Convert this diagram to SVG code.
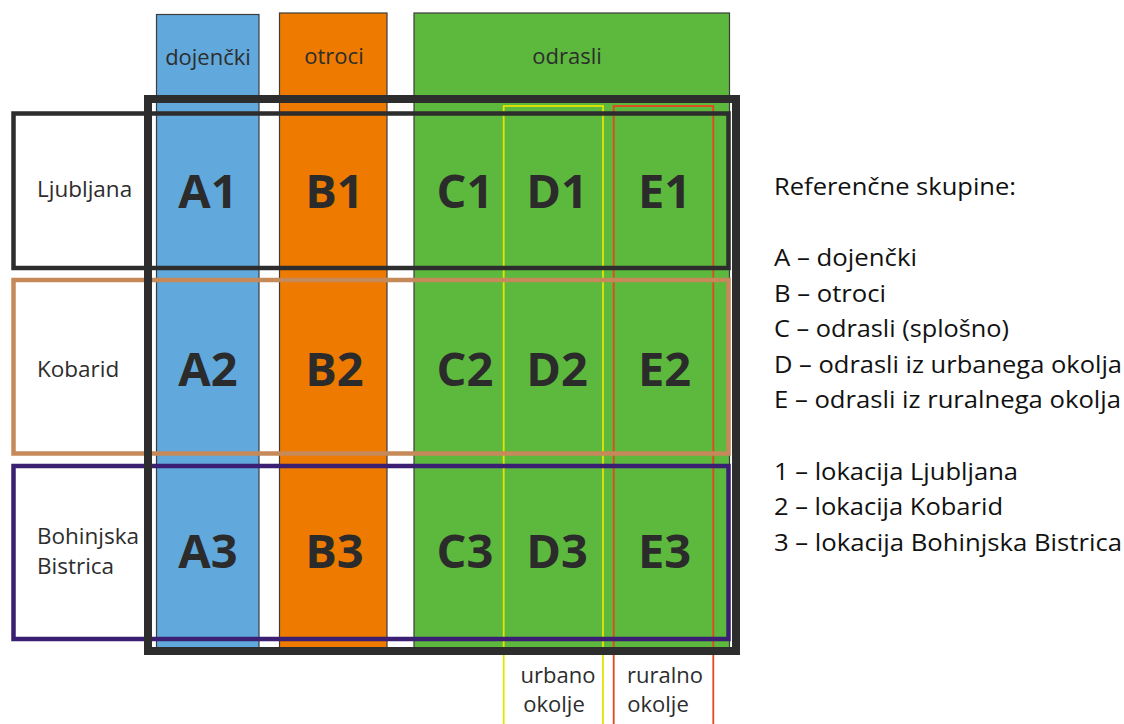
<svg xmlns="http://www.w3.org/2000/svg" width="1124" height="724" viewBox="0 0 1124 724">
<style>
.col{stroke:#3c3c3c;stroke-width:1.2}
.hdr{font-family:"Open Sans","Liberation Sans",sans-serif;font-size:22px;fill:#2d2d2d;text-anchor:middle}
.lbl{font-family:"Open Sans","Liberation Sans",sans-serif;font-size:22.5px;fill:#2d2d2d}
.cell{font-family:"Open Sans","Liberation Sans",sans-serif;font-size:47px;font-weight:bold;fill:#2b2b2b;text-anchor:middle}
.leg{font-family:"Open Sans","Liberation Sans",sans-serif;font-size:23.5px;fill:#111}
.row{fill:none;stroke-width:4.5}
</style>
<rect width="1124" height="724" fill="#ffffff"/>
<g id="col-A">
<rect class="col" x="156.5" y="14.5" width="102.5" height="634" fill="#61a9dc"/>
<text class="hdr" x="208" y="65">dojenčki</text>
</g>
<g id="col-B">
<rect class="col" x="279.5" y="13" width="107.5" height="635.5" fill="#ee7b00"/>
<text class="hdr" x="334" y="64">otroci</text>
</g>
<g id="col-C">
<rect class="col" x="414" y="13" width="315.5" height="635.5" fill="#5db93e"/>
<text class="hdr" x="567" y="64">odrasli</text>
</g>
<g id="env-lines">
<rect id="urbano" x="503.7" y="106" width="99.3" height="640" fill="none" stroke="#e4e400" stroke-width="1.8"/>
<rect id="ruralno" x="613.7" y="106" width="99.6" height="640" fill="none" stroke="#e5461c" stroke-width="1.8"/>
</g>
<g id="row-1">
<rect class="row" x="13.5" y="113.5" width="715" height="154.5" stroke="#2d2d2d"/>
<text class="lbl" x="37" y="197">Ljubljana</text>
</g>
<g id="row-2">
<rect class="row" x="13.5" y="280" width="715" height="173.5" stroke="#c6895a"/>
<text class="lbl" x="37" y="377">Kobarid</text>
</g>
<g id="row-3">
<rect class="row" x="13.5" y="466" width="715" height="173" stroke="#3b1f72"/>
<text class="lbl" x="37" y="544">Bohinjska</text>
<text class="lbl" x="37" y="574">Bistrica</text>
</g>
<g id="frame">
<rect x="148" y="99" width="588" height="552" fill="none" stroke="#2d2d2d" stroke-width="8"/>
</g>
<g id="cells">
<text class="cell" x="208" y="208">A1</text>
<text class="cell" x="334.5" y="208">B1</text>
<text class="cell" x="465" y="208">C1</text>
<text class="cell" x="557" y="208">D1</text>
<text class="cell" x="664.5" y="208">E1</text>
<text class="cell" x="208" y="386">A2</text>
<text class="cell" x="334.5" y="386">B2</text>
<text class="cell" x="465" y="386">C2</text>
<text class="cell" x="557" y="386">D2</text>
<text class="cell" x="664.5" y="386">E2</text>
<text class="cell" x="208" y="568">A3</text>
<text class="cell" x="334.5" y="568">B3</text>
<text class="cell" x="465" y="568">C3</text>
<text class="cell" x="557" y="568">D3</text>
<text class="cell" x="664.5" y="568">E3</text>
</g>
<g id="env-labels">
<text class="hdr" x="558" y="683">urbano</text>
<text class="hdr" x="554" y="712">okolje</text>
<text class="hdr" x="665" y="683">ruralno</text>
<text class="hdr" x="658" y="712">okolje</text>
</g>
<g id="legend">
<text class="leg" x="774" y="195" textLength="242" lengthAdjust="spacingAndGlyphs">Referenčne skupine:</text>
<text class="leg" x="774" y="266" textLength="143" lengthAdjust="spacingAndGlyphs">A – dojenčki</text>
<text class="leg" x="774" y="301.5" textLength="112" lengthAdjust="spacingAndGlyphs">B – otroci</text>
<text class="leg" x="774" y="337" textLength="235" lengthAdjust="spacingAndGlyphs">C – odrasli (splošno)</text>
<text class="leg" x="774" y="372.5" textLength="348" lengthAdjust="spacingAndGlyphs">D – odrasli iz urbanega okolja</text>
<text class="leg" x="774" y="408" textLength="347" lengthAdjust="spacingAndGlyphs">E – odrasli iz ruralnega okolja</text>
<text class="leg" x="774" y="479.5" textLength="244" lengthAdjust="spacingAndGlyphs">1 – lokacija Ljubljana</text>
<text class="leg" x="774" y="515" textLength="229" lengthAdjust="spacingAndGlyphs">2 – lokacija Kobarid</text>
<text class="leg" x="774" y="550.5" textLength="348" lengthAdjust="spacingAndGlyphs">3 – lokacija Bohinjska Bistrica</text>
</g>
</svg>
